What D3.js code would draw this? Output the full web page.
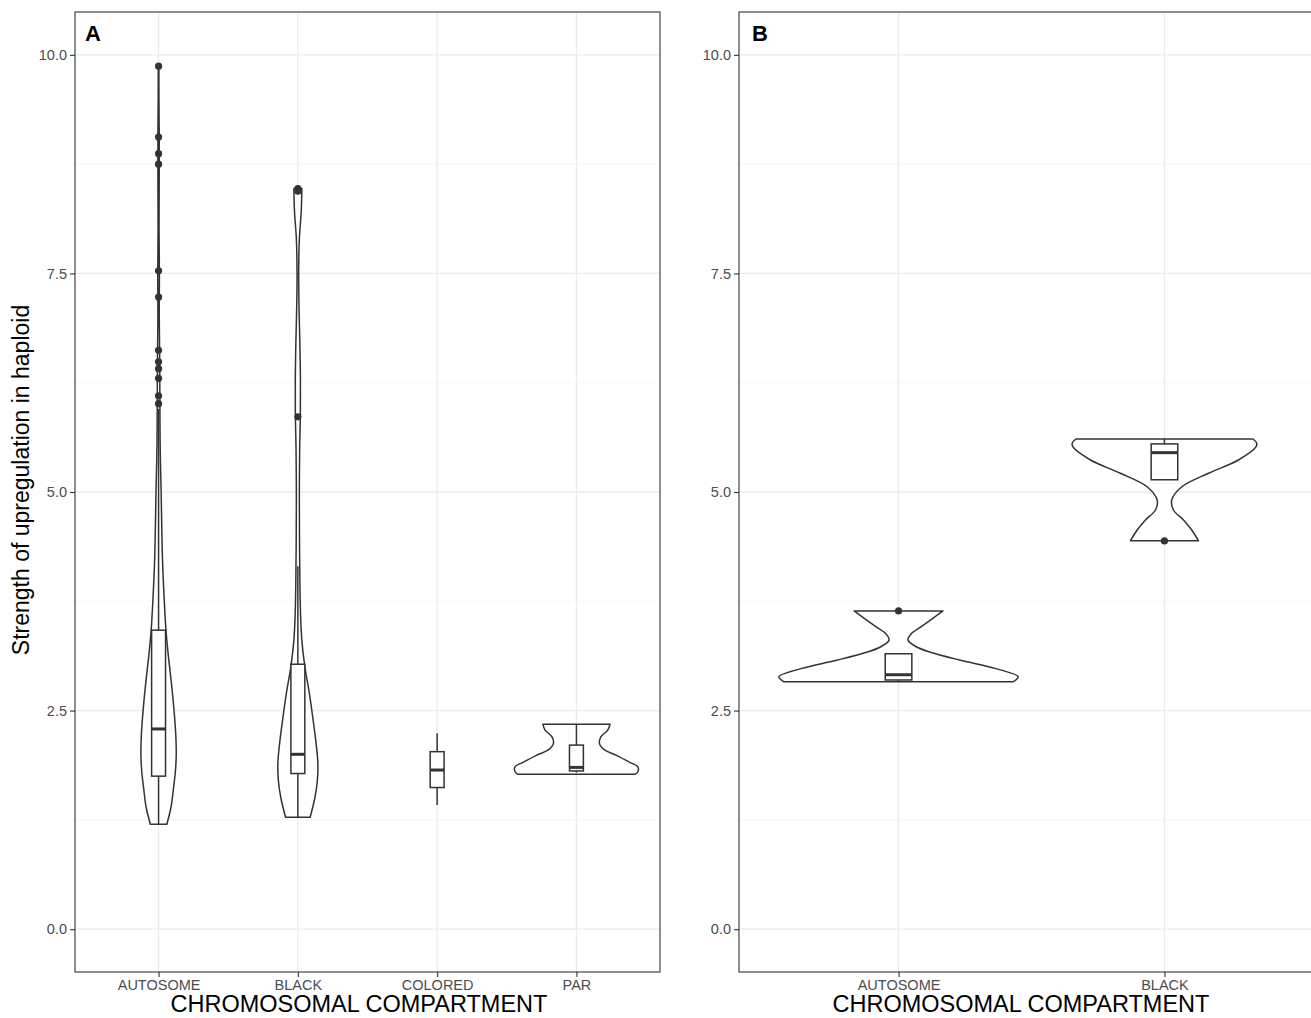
<!DOCTYPE html>
<html><head><meta charset="utf-8">
<script src="https://cdn.jsdelivr.net/npm/d3@7"></script>
<style>
body{margin:0;background:#fff;}
text{font-family:"Liberation Sans",Arial,Helvetica,sans-serif;}
</style></head>
<body><svg id="chart" width="1311" height="1018"></svg>
<script>
// ---------------- data ----------------
const categoriesA = ["AUTOSOME", "BLACK", "COLORED", "PAR"];
const categoriesB = ["AUTOSOME", "BLACK"];
const yTicks = [0, 2.5, 5, 7.5, 10];
const yMinorTicks = [1.25, 3.75, 6.25, 8.75];
const panelLabels = ["A", "B"];
const xTitle = "CHROMOSOMAL COMPARTMENT";
const yTitle = "Strength of upregulation in haploid";

// violin density profiles: [value, relative density]
const violinA_autosome = [[1.2,0.132],[1.4,0.2],[1.6,0.236],[1.8,0.268],[2.0,0.282],[2.2,0.276],[2.5,0.247],[2.8,0.207],[3.1,0.16],[3.4,0.12],[3.8,0.088],[4.2,0.064],[4.6,0.051],[5.0,0.041],[5.5,0.026],[6.0,0.021],[6.5,0.018],[7.0,0.011],[7.5,0.013],[8.0,0.008],[8.5,0.01],[9.0,0.011],[9.5,0.006],[9.87,0.005]];
const violinA_black = [[1.28,0.196],[1.5,0.271],[1.7,0.311],[1.9,0.319],[2.1,0.295],[2.4,0.242],[2.7,0.183],[3.0,0.112],[3.3,0.064],[3.6,0.043],[4.0,0.032],[4.5,0.026],[5.0,0.024],[5.5,0.029],[5.9,0.04],[6.3,0.041],[6.7,0.032],[7.1,0.019],[7.5,0.013],[7.9,0.024],[8.2,0.053],[8.47,0.064]];
const violinA_colored = [];
const violinA_par = [[1.773,0.94],[1.80,0.98],[1.857,0.98],[1.91,0.845],[1.99,0.63],[2.05,0.45],[2.125,0.367],[2.2,0.39],[2.277,0.5],[2.345,0.536]];
const violinB_autosome = [[2.83,0.96],[2.886,1.0],[2.98,0.816],[3.078,0.51],[3.17,0.26],[3.23,0.148],[3.307,0.079],[3.38,0.106],[3.46,0.19],[3.555,0.287],[3.64,0.371]];
const violinB_black = [[4.443,0.284],[4.565,0.228],[4.68,0.159],[4.794,0.075],[4.908,0.061],[5.06,0.145],[5.214,0.368],[5.366,0.618],[5.518,0.766],[5.56,0.77],[5.606,0.74]];

// box statistics per category
const boxA_low  = [1.2, 1.28, 1.42, 1.79];
const boxA_q1   = [1.75, 1.78, 1.62, 1.81];
const boxA_med  = [2.29, 2.0, 1.82, 1.85];
const boxA_q3   = [3.42, 3.03, 2.03, 2.105];
const boxA_high = [5.95, 4.15, 2.24, 2.345];
const boxB_low  = [2.83, 5.14];
const boxB_q1   = [2.85, 5.14];
const boxB_med  = [2.91, 5.45];
const boxB_q3   = [3.15, 5.55];
const boxB_high = [3.15, 5.606];

// outliers
const outliersA_autosome = [9.87, 9.06, 8.87, 8.75, 7.53, 7.23, 6.62, 6.49, 6.41, 6.30, 6.10, 6.01];
const outliersA_black = [8.47, 8.44, 5.86];
const outliersA_colored = [];
const outliersA_par = [];
const outliersB_autosome = [3.64];
const outliersB_black = [4.44];

// ---------------- drawing ----------------
const svg = d3.select("#chart");
const ink = "#333333";
const y = d3.scaleLinear().domain([-0.49, 10.49]).range([972, 12]);

const panels = [
  {x0: 75, x1: 660, cats: categoriesA, label: panelLabels[0], labelX: 85, titleX: 359,
   violins: [violinA_autosome, violinA_black, violinA_colored, violinA_par],
   low: boxA_low, q1: boxA_q1, med: boxA_med, q3: boxA_q3, high: boxA_high,
   outliers: [outliersA_autosome, outliersA_black, outliersA_colored, outliersA_par]},
  {x0: 739, x1: 1324, cats: categoriesB, label: panelLabels[1], labelX: 752, titleX: 1021,
   violins: [violinB_autosome, violinB_black],
   low: boxB_low, q1: boxB_q1, med: boxB_med, q3: boxB_q3, high: boxB_high,
   outliers: [outliersB_autosome, outliersB_black]}
];

panels.forEach(p => {
  const x = d3.scalePoint().domain(p.cats).range([p.x0, p.x1]).padding(0.6);
  const step = x.step();
  const w = d3.scaleLinear().domain([0, 1]).range([0, 0.45 * step]);
  const bw = 0.05 * step;
  const g = svg.append("g");

  // background grid
  g.selectAll(".minor").data(yMinorTicks).join("line")
    .attr("x1", p.x0).attr("x2", p.x1).attr("y1", d => y(d)).attr("y2", d => y(d))
    .attr("stroke", "#f4f4f4").attr("stroke-width", 0.8);
  g.selectAll(".major").data(yTicks).join("line")
    .attr("x1", p.x0).attr("x2", p.x1).attr("y1", d => y(d)).attr("y2", d => y(d))
    .attr("stroke", "#ebebeb").attr("stroke-width", 1.3);
  g.selectAll(".vmajor").data(p.cats).join("line")
    .attr("x1", d => x(d)).attr("x2", d => x(d)).attr("y1", 12).attr("y2", 972)
    .attr("stroke", "#ebebeb").attr("stroke-width", 1.3);

  // violins
  p.cats.forEach((c, i) => {
    const cx = x(c);
    const prof = p.violins[i];
    if (prof.length > 1) {
      const area = d3.area().curve(d3.curveCatmullRom.alpha(0.5))
        .y(d => y(d[0])).x0(d => cx - w(d[1])).x1(d => cx + w(d[1]));
      g.append("path").datum(prof).attr("d", area)
        .attr("fill", "#fff").attr("stroke", ink).attr("stroke-width", 1.5)
        .attr("stroke-linejoin", "round");
    }
    // whiskers
    g.append("line").attr("x1", cx).attr("x2", cx)
      .attr("y1", y(p.q3[i])).attr("y2", y(p.high[i]))
      .attr("stroke", ink).attr("stroke-width", 1.5);
    g.append("line").attr("x1", cx).attr("x2", cx)
      .attr("y1", y(p.q1[i])).attr("y2", y(p.low[i]))
      .attr("stroke", ink).attr("stroke-width", 1.5);
    // box
    g.append("rect").attr("x", cx - bw).attr("width", 2 * bw)
      .attr("y", y(p.q3[i])).attr("height", y(p.q1[i]) - y(p.q3[i]))
      .attr("fill", "#fff").attr("stroke", ink).attr("stroke-width", 1.5);
    g.append("line").attr("x1", cx - bw).attr("x2", cx + bw)
      .attr("y1", y(p.med[i])).attr("y2", y(p.med[i]))
      .attr("stroke", ink).attr("stroke-width", 3);
    // outliers
    g.selectAll(null).data(p.outliers[i]).join("circle")
      .attr("cx", cx).attr("cy", d => y(d)).attr("r", 3.6).attr("fill", ink);
  });

  // border
  g.append("rect").attr("x", p.x0).attr("y", 12).attr("width", p.x1 - p.x0).attr("height", 960)
    .attr("fill", "none").attr("stroke", ink).attr("stroke-width", 1.1);

  // axes
  const ay = g.append("g").attr("transform", `translate(${p.x0},0)`)
    .call(d3.axisLeft(y).tickValues(yTicks).tickFormat(d3.format(".1f")).tickSize(5).tickPadding(3));
  const ax = g.append("g").attr("transform", "translate(0,972)")
    .call(d3.axisBottom(x).tickSize(5).tickPadding(3));
  [ay, ax].forEach(a => {
    a.select(".domain").remove();
    a.selectAll(".tick line").attr("stroke", ink).attr("stroke-width", 1.1);
    a.selectAll(".tick text").attr("fill", "#4d4d4d").style("font-size", "14.5px");
  });

  // titles
  g.append("text").attr("x", p.titleX).attr("y", 1012).attr("text-anchor", "middle")
    .style("font-size", "23.5px").attr("fill", "#000").text(xTitle);
  g.append("text").attr("x", p.labelX).attr("y", 40.5)
    .style("font-size", "22px").style("font-weight", "bold").attr("fill", "#000").text(p.label);
});

svg.append("text").attr("transform", "translate(29,480) rotate(-90)")
  .attr("text-anchor", "middle").style("font-size", "23px").attr("fill", "#000").text(yTitle);
</script></body></html>
